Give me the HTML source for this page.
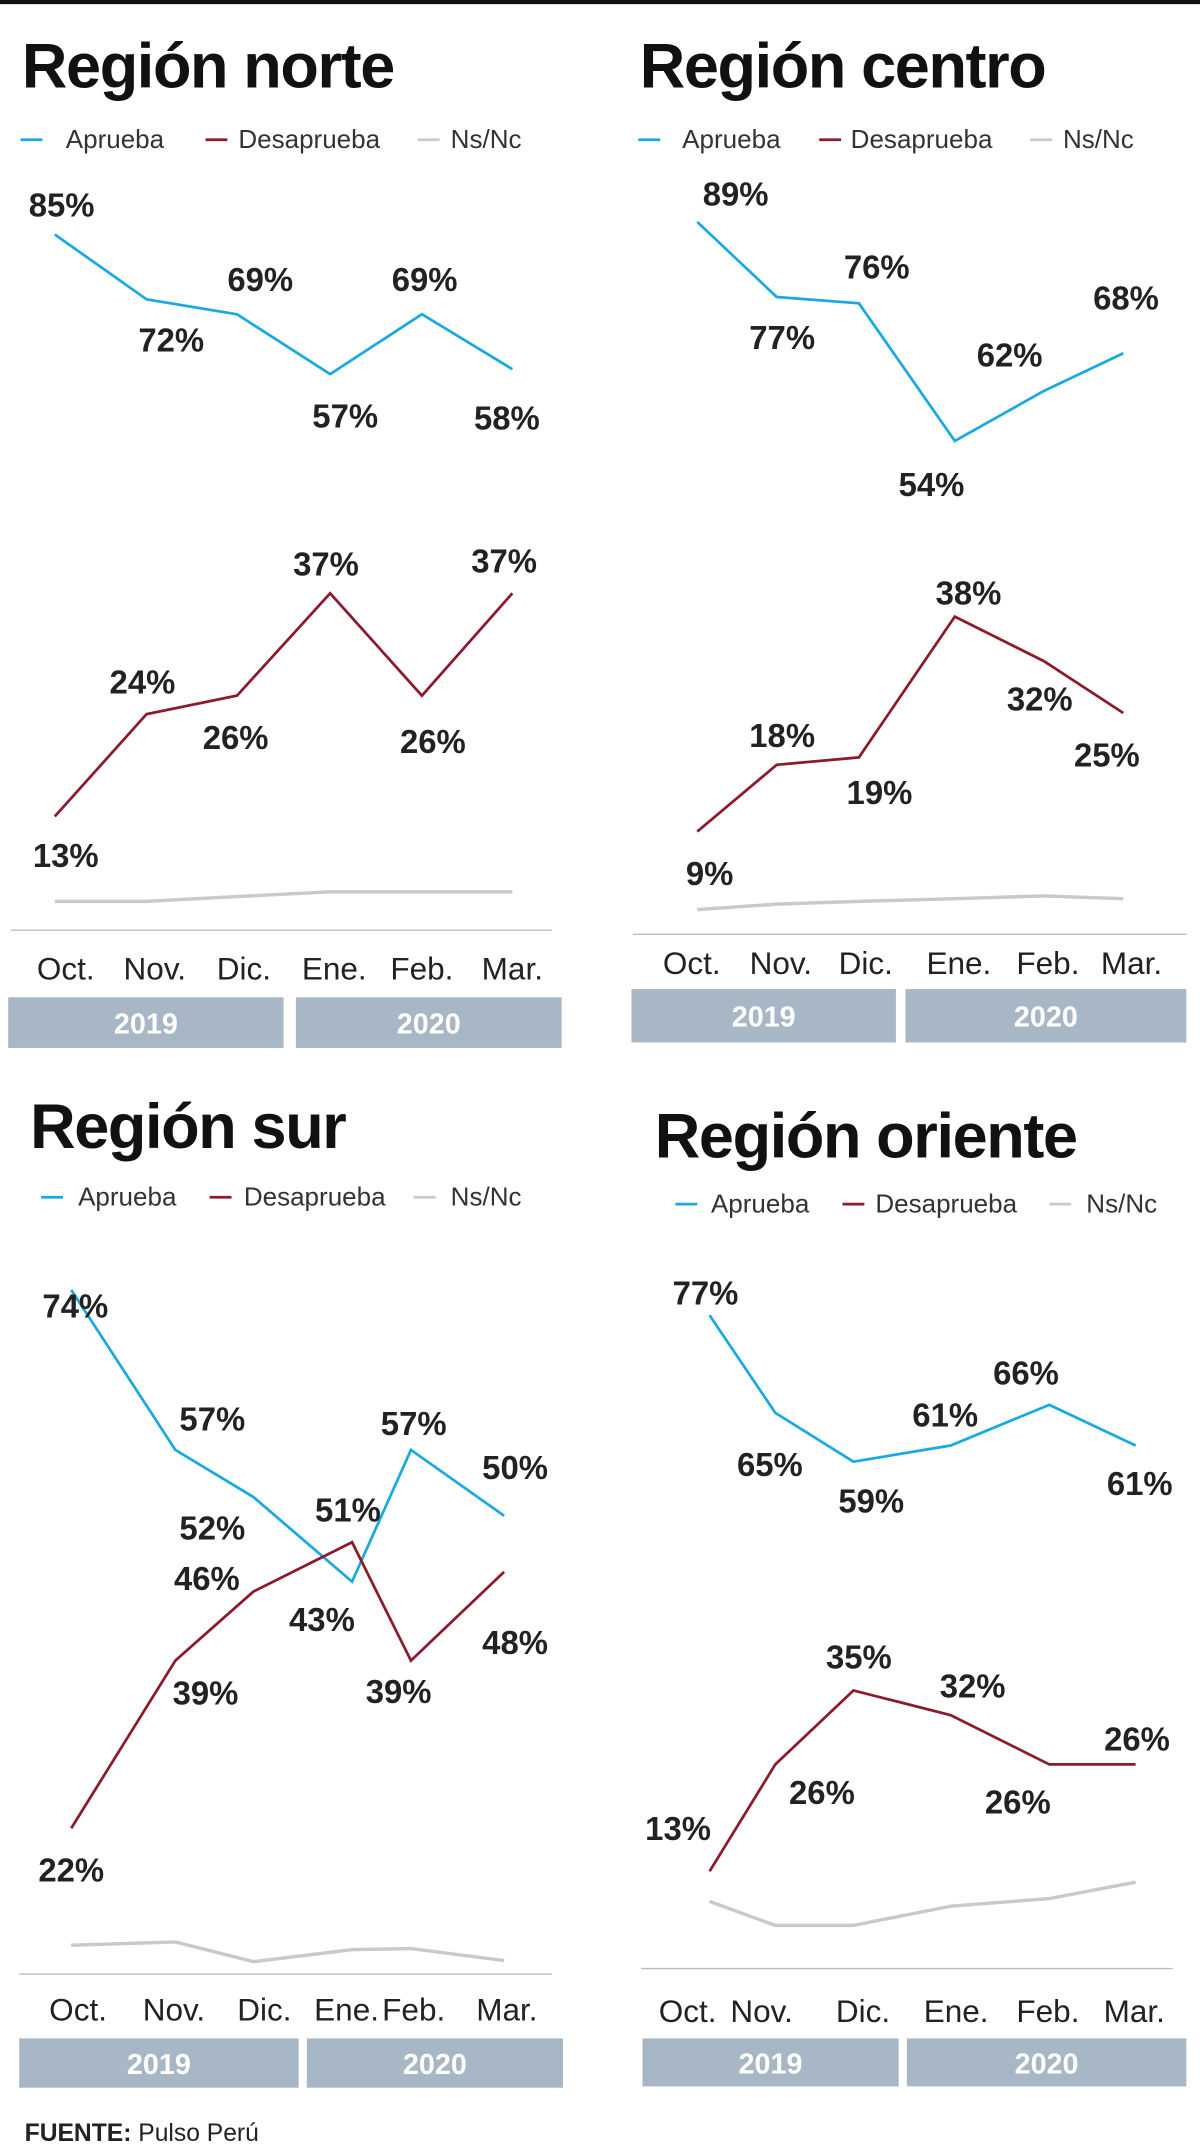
<!DOCTYPE html>
<html><head><meta charset="utf-8"><style>
html,body{margin:0;padding:0;background:#fff;}
svg{display:block;font-family:"Liberation Sans",sans-serif;}
.t{font-weight:bold;font-size:46px;fill:#111;letter-spacing:-1px;}
.lg{font-size:19px;fill:#333;}
.v{font-weight:bold;font-size:24px;fill:#222;text-anchor:middle;}
.m{font-size:23px;fill:#222;text-anchor:middle;}
.y{font-weight:bold;font-size:21px;fill:#fff;text-anchor:middle;}
</style></head><body>
<svg id="c" width="1200" height="2148" viewBox="0 0 876 1568" preserveAspectRatio="none">
<rect x="0" y="0" width="876" height="3" fill="#111"/>
<text x="18" y="1563" style="font-size:18px;fill:#222"><tspan font-weight="bold">FUENTE:</tspan> Pulso Perú</text>
</svg>
<script>
const months = ["Oct.","Nov.","Dic.","Ene.","Feb.","Mar."];
const years = ["2019","2020"];
const norteAprueba = [85,72,69,57,69,58];
const norteDesaprueba = [13,24,26,37,26,37];
const norteNsNc = [2,2,3,4,4,4];
const centroAprueba = [89,77,76,54,62,68];
const centroDesaprueba = [9,18,19,38,32,25];
const centroNsNc = [1,2,2.5,3,3.5,3];
const surAprueba = [74,57,52,43,57,50];
const surDesaprueba = [22,39,46,51,39,48];
const surNsNc = [3,3.3,1.5,2.6,2.7,1.6];
const orienteAprueba = [77,65,59,61,66,61];
const orienteDesaprueba = [13,26,35,32,26,26];
const orienteNsNc = [5,2.5,2.5,4.5,5.3,7];

const NS="http://www.w3.org/2000/svg";
const svg=document.getElementById('c');
function el(tag,attrs,parent){const e=document.createElementNS(NS,tag);for(const k in attrs)e.setAttribute(k,attrs[k]);(parent||svg).appendChild(e);return e;}
const COL={a:"#1aa9e0",d:"#8b1a2b",n:"#c9c9c9"};

const panels=[
 {id:"norte",title:"Región norte",tx:16,ty:64,
  xs:[40,107,173,241,308,374],
  legend:{y:108,items:[[15,48],[150,174],[305,329]]},
  a:{v:norteAprueba,A:480.6,B:3.64,dx:[5,18,17,11,2,-4],dy:[-13,38,-17,39,-17,44]},
  d:{v:norteDesaprueba,A:684.3,B:6.79,dx:[8,-3,-1,-3,8,-6],dy:[37,-15,39,-13,42,-15]},
  n:{v:norteNsNc,A:665,B:3.5},
  axis:{y:679,x1:8,x2:403,my:715,mx:[48,113,178,244,308,374],by:728,bh:37,bars:[[6,207],[216,410]]}},
 {id:"centro",title:"Región centro",tx:467,ty:64,
  xs:[509,567,627,697,762,820],
  legend:{y:108,items:[[466,498],[598,621],[752,776]]},
  a:{v:centroAprueba,A:568.7,B:4.57,dx:[28,4,13,-17,-25,2],dy:[-12,38,-18,40,-18,-32]},
  d:{v:centroDesaprueba,A:655.7,B:5.41,dx:[9,4,15,10,-3,-12],dy:[39,-13,34,-9,36,39]},
  n:{v:centroNsNc,A:668,B:4},
  axis:{y:682,x1:462,x2:866,my:711,mx:[505,570,632,700,765,826],by:722,bh:39,bars:[[461,654],[661,866]]}},
 {id:"sur",title:"Región sur",tx:22,ty:838,
  xs:[52,128,185,257,300,368],
  legend:{y:880,items:[[30,57],[153,178],[302,329]]},
  a:{v:surAprueba,A:1450,B:6.87,dx:[3,27,-30,-22,2,8],dy:[20,-14,31,36,-11,-27]},
  d:{v:surDesaprueba,A:1493,B:7.2,dx:[0,22,-34,-3,-9,8],dy:[39,32,-1,-15,31,60]},
  n:{v:surNsNc,A:1444,B:8},
  axis:{y:1441,x1:14,x2:403,my:1475,mx:[57,127,193,253,302,370],by:1488,bh:36,bars:[[14,218],[224,411]]}},
 {id:"oriente",title:"Región oriente",tx:478,ty:845,
  xs:[518,566,623,694,766,829],
  legend:{y:885,items:[[493,519],[615,639],[766,793]]},
  a:{v:orienteAprueba,A:1417.5,B:5.94,dx:[-3,-4,13,-4,-17,3],dy:[-8,46,37,-14,-15,36]},
  d:{v:orienteDesaprueba,A:1444,B:6,dx:[-23,34,4,16,-23,1],dy:[-23,29,-16,-13,36,-10]},
  n:{v:orienteNsNc,A:1423,B:7},
  axis:{y:1437,x1:468,x2:856,my:1476,mx:[502,556,630,698,765,828],by:1488,bh:35,bars:[[469,656],[662,866]]}}
];

panels.forEach(p=>{
 const g=el('g',{});
 
 
 const t=el('text',{x:p.tx,y:p.ty,class:'t'},g);t.textContent=p.title;
 
 
 const names=["Aprueba","Desaprueba","Ns/Nc"],keys=["a","d","n"];
 p.legend.items.forEach((it,i)=>{
  const lg=el('g',{},g);
  
  
  el('line',{x1:it[0],x2:it[0]+16,y1:p.legend.y-6,y2:p.legend.y-6,stroke:COL[keys[i]],'stroke-width':2},lg);
  const tx=el('text',{x:it[1],y:p.legend.y,class:'lg'},lg);tx.textContent=names[i];
 });
 const ax=el('line',{x1:p.axis.x1,x2:p.axis.x2,y1:p.axis.y,y2:p.axis.y,stroke:'#bbb','stroke-width':1},g);
 
 
 months.forEach((m,i)=>{
  const mt=el('text',{x:p.axis.mx[i],y:p.axis.my,class:'m'},g);mt.textContent=m;
  
  
 });
 p.axis.bars.forEach((b,i)=>{
  const r=el('rect',{x:b[0],y:p.axis.by,width:b[1]-b[0],height:p.axis.bh,fill:'#a7b7c6'},g);
  
  
  const yt=el('text',{x:(b[0]+b[1])/2,y:p.axis.by+p.axis.bh/2+8,class:'y'},g);yt.textContent=years[i];
  
  
 });
 ["n","a","d"].forEach(k=>{
  const s=p[k];
  const ys=s.v.map(v=>s.A-s.B*v);
  const pts=ys.map((y,i)=>p.xs[i]+','+y.toFixed(1)).join(' ');
  const pl=el('polyline',{points:pts,fill:'none',stroke:COL[k],'stroke-width':k==='n'?2.5:2,'stroke-linejoin':'miter'},g);
  
  
  if(k!=='n'){
   s.v.forEach((v,i)=>{
    const lt=el('text',{x:p.xs[i]+s.dx[i],y:(ys[i]+s.dy[i]).toFixed(1),class:'v'},g);
    lt.textContent=v+'%';
    
    
   });
  }
 });
});
</script>
</body></html>
